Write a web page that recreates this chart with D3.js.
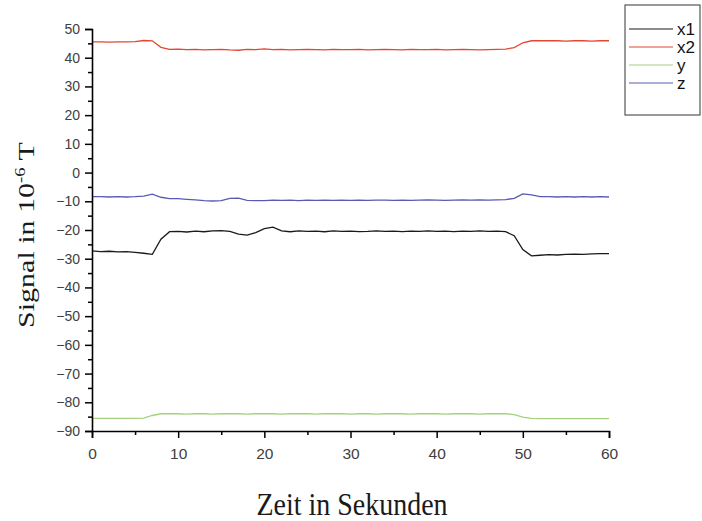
<!DOCTYPE html>
<html>
<head>
<meta charset="utf-8">
<script src="https://cdn.jsdelivr.net/npm/d3@7"></script>
<style>
  body { margin: 0; background: #fff; }
  svg { display: block; }
</style>
</head>
<body>
<script>
// time in seconds
var time = [0,1,2,3,4,5,6,7,8,9,10,11,12,13,14,15,16,17,18,19,20,
  21,22,23,24,25,26,27,28,29,30,31,32,33,34,35,36,37,38,39,40,
  41,42,43,44,45,46,47,48,49,50,51,52,53,54,55,56,57,58,59,60];

// signals (10^-6 T)
var x1 = [-27.3,-27.5,-27.4,-27.6,-27.5,-27.8,-28.1,-28.5,-23.2,-20.6,-20.5,
  -20.7,-20.4,-20.6,-20.3,-20.2,-20.5,-21.4,-21.8,-20.9,-19.5,
  -19.0,-20.3,-20.6,-20.3,-20.5,-20.4,-20.6,-20.3,-20.5,-20.4,
  -20.6,-20.5,-20.3,-20.5,-20.4,-20.6,-20.4,-20.5,-20.3,-20.5,
  -20.4,-20.6,-20.4,-20.5,-20.3,-20.5,-20.4,-20.6,-22.0,-26.8,
  -29.0,-28.8,-28.6,-28.7,-28.5,-28.4,-28.5,-28.3,-28.2,-28.2];
var x2 = [45.5,45.5,45.4,45.5,45.5,45.6,46.0,45.9,43.6,42.9,43.0,
  42.8,42.9,42.7,42.8,42.9,42.7,42.6,42.9,42.8,43.1,
  42.8,42.9,42.7,42.8,42.9,42.8,42.7,42.9,42.8,42.8,
  42.9,42.7,42.8,42.9,42.8,42.7,42.9,42.8,42.8,42.9,
  42.7,42.8,42.9,42.8,42.7,42.8,42.9,43.0,43.5,45.2,
  45.9,45.9,45.9,45.9,45.8,45.9,45.9,45.8,45.9,45.9];
var y = [-85.6,-85.6,-85.6,-85.6,-85.6,-85.6,-85.5,-84.6,-84.0,-84.0,-84.0,
  -84.1,-84.0,-84.0,-84.1,-84.0,-84.0,-84.0,-84.1,-84.0,-84.0,
  -84.0,-84.1,-84.0,-84.0,-84.0,-84.1,-84.0,-84.0,-84.0,-84.1,
  -84.0,-84.0,-84.1,-84.0,-84.0,-84.0,-84.1,-84.0,-84.0,-84.0,
  -84.1,-84.0,-84.0,-84.0,-84.1,-84.0,-84.0,-84.0,-84.3,-85.2,
  -85.6,-85.7,-85.7,-85.7,-85.7,-85.7,-85.7,-85.7,-85.7,-85.7];
var z = [-8.4,-8.4,-8.5,-8.4,-8.5,-8.4,-8.2,-7.5,-8.6,-9.1,-9.1,
  -9.3,-9.5,-9.8,-9.9,-9.8,-9.0,-8.9,-9.7,-9.8,-9.8,
  -9.6,-9.7,-9.6,-9.8,-9.6,-9.7,-9.6,-9.7,-9.6,-9.7,
  -9.6,-9.7,-9.6,-9.6,-9.7,-9.6,-9.7,-9.6,-9.5,-9.6,
  -9.7,-9.6,-9.5,-9.6,-9.5,-9.6,-9.5,-9.4,-9.0,-7.4,
  -7.8,-8.4,-8.4,-8.5,-8.4,-8.5,-8.4,-8.5,-8.4,-8.5];

var seriesNames = ["x1", "x2", "y", "z"];
var seriesColors = ["#1a1a1a", "#e2472f", "#a4d17e", "#5a5ab4"];
var seriesData = [x1, x2, y, z];

var xTicks = [0, 10, 20, 30, 40, 50, 60];
var yTicks = [50, 40, 30, 20, 10, 0, -10, -20, -30, -40, -50, -60, -70, -80, -90];

var width = 702, height = 521;

var svg = d3.select("body").append("svg")
  .attr("width", width)
  .attr("height", height);

var xScale = d3.scaleLinear().domain([0, 60]).range([92, 609]);
var yScale = d3.scaleLinear().domain([-90, 50]).range([431, 29]);

// lines
var line = d3.line()
  .x((d, i) => xScale(time[i]))
  .y(d => yScale(d));

svg.append("g").selectAll("path")
  .data(seriesData)
  .enter().append("path")
  .attr("d", d => line(d))
  .attr("fill", "none")
  .attr("stroke", (d, i) => seriesColors[i])
  .attr("stroke-width", 1.3);

// minor ticks every 5
var minorY = d3.range(-90, 51, 5).filter(v => v % 10 != 0);
var minorX = d3.range(0, 61, 5).filter(v => v % 10 != 0);

var yAxis = svg.append("g").attr("transform", "translate(" + xScale(0) + ",0)");
yAxis.call(d3.axisLeft(yScale).tickValues(yTicks).tickSize(7).tickPadding(5).tickFormat(d3.format("d")));
yAxis.append("g").call(d3.axisLeft(yScale).tickValues(minorY).tickSize(4).tickFormat(""))
  .select(".domain").remove();

var xAxis = svg.append("g").attr("transform", "translate(0," + yScale(-90) + ")");
xAxis.call(d3.axisBottom(xScale).tickValues(xTicks).tickSize(7).tickPadding(10).tickFormat(d3.format("d")));
xAxis.append("g").call(d3.axisBottom(xScale).tickValues(minorX).tickSize(4).tickFormat(""))
  .select(".domain").remove();

svg.selectAll(".domain").attr("stroke", "#000").attr("stroke-width", 1.6);
svg.selectAll(".tick line").attr("stroke", "#000").attr("stroke-width", 1.5);
yAxis.selectAll("text")
  .attr("fill", "#404040")
  .style("font-family", "Liberation Sans, Arial, sans-serif")
  .style("font-size", "14px");
xAxis.selectAll("text")
  .attr("fill", "#404040")
  .style("font-family", "Liberation Sans, Arial, sans-serif")
  .style("font-size", "15.5px");

// axis titles
svg.append("text")
  .attr("transform", "translate(352,515) scale(1,1.1)")
  .attr("text-anchor", "middle")
  .style("font-family", "Liberation Serif, Times New Roman, serif")
  .style("font-size", "28px")
  .attr("fill", "#1a1a1a")
  .text("Zeit in Sekunden");

var yTitle = svg.append("text")
  .attr("transform", "translate(34,235) rotate(-90) scale(1.25,1)")
  .attr("text-anchor", "middle")
  .style("font-family", "Liberation Serif, Times New Roman, serif")
  .style("font-size", "24px")
  .attr("fill", "#1a1a1a");
yTitle.append("tspan").text("Signal in 10");
yTitle.append("tspan").attr("dy", -9).style("font-size", "15px").text("-6");
yTitle.append("tspan").attr("dy", 9).text(" T");

// legend
var legend = svg.append("g");
legend.append("rect")
  .attr("x", 625).attr("y", 5)
  .attr("width", 75).attr("height", 110)
  .attr("fill", "#fff")
  .attr("stroke", "#555")
  .attr("stroke-width", 1.2);

var rowY = [29, 47, 65, 83];
var items = legend.selectAll("g.item")
  .data(seriesNames)
  .enter().append("g")
  .attr("transform", (d, i) => "translate(0," + rowY[i] + ")");
items.append("line")
  .attr("x1", 629).attr("x2", 673)
  .attr("stroke", (d, i) => seriesColors[i])
  .attr("stroke-width", 1.2);
items.append("text")
  .attr("x", 677).attr("y", 6)
  .style("font-family", "Liberation Sans, Arial, sans-serif")
  .style("font-size", "17px")
  .attr("fill", "#111")
  .text(d => d);
</script>
</body>
</html>
